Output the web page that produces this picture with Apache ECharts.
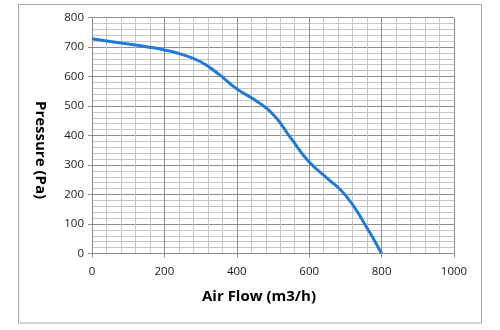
<!DOCTYPE html>
<html>
<head>
<meta charset="utf-8">
<script src="https://cdn.jsdelivr.net/npm/echarts@6/dist/echarts.min.js"></script>
<style>
  html, body { margin: 0; padding: 0; background: #ffffff; }
  #chart { width: 500px; height: 330px; }
</style>
</head>
<body>
<div id="chart"></div>
<script>
// Fan performance curve: static pressure vs. air flow
const flowValues     = [0, 50, 100, 150, 200, 250, 300, 350, 400, 450, 500, 550, 600, 650, 700, 750, 800];
const pressureValues = [728, 719, 710, 701, 690, 674, 650, 608, 558, 520, 472, 390, 310, 255, 198, 107, 0];

const xAxisTitle = 'Air Flow (m3/h)';
const yAxisTitle = 'Pressure (Pa)';

const curve = flowValues.map((f, i) => [f, pressureValues[i]]);

const labelFont = { color: '#1a1a1a', fontFamily: 'Open Sans', fontSize: 11.5 };
const majorLine = { show: true, lineStyle: { color: '#8e8e8e', width: 1 } };
const minorLine = { show: true, lineStyle: { color: '#c6c6c6', width: 1 } };

const chart = echarts.init(document.getElementById('chart'), null, { renderer: 'canvas' });
chart.setOption({
  animation: false,
  backgroundColor: '#ffffff',
  grid: { left: 92, right: 46, top: 17.5, bottom: 76.5, containLabel: false },
  xAxis: {
    type: 'value',
    min: 0, max: 1000, interval: 200,
    axisLine: { show: true, lineStyle: { color: '#8e8e8e' } },
    axisTick: { show: true, inside: false, length: 4, lineStyle: { color: '#8e8e8e' } },
    minorTick: { show: false, splitNumber: 5 },
    axisLabel: Object.assign({ margin: 12, formatter: v => String(v) }, labelFont),
    splitLine: majorLine,
    minorSplitLine: minorLine
  },
  yAxis: {
    type: 'value',
    min: 0, max: 800, interval: 100,
    axisLine: { show: true, lineStyle: { color: '#8e8e8e' } },
    axisTick: { show: true, inside: false, length: 4, lineStyle: { color: '#8e8e8e' } },
    minorTick: { show: false, splitNumber: 5 },
    axisLabel: Object.assign({ margin: 8, formatter: v => String(v) }, labelFont),
    splitLine: majorLine,
    minorSplitLine: minorLine
  },
  series: [{
    type: 'line',
    data: curve,
    smooth: 0.5,
    showSymbol: false,
    lineStyle: { color: '#1f7ad8', width: 3 },
    z: 5
  }],
  graphic: [
    {
      type: 'rect',
      shape: { x: 18.5, y: 4.5, width: 463, height: 318.5 },
      style: { fill: 'none', stroke: '#a6a6a6', lineWidth: 1 },
      silent: true
    },
    {
      type: 'text',
      x: 259, y: 297,
      style: {
        text: xAxisTitle, fill: '#000000',
        font: 'bold 15px "Open Sans"',
        align: 'center', verticalAlign: 'middle'
      }
    },
    {
      type: 'text',
      x: 40, y: 150,
      rotation: -Math.PI / 2,
      style: {
        text: yAxisTitle, fill: '#000000',
        font: 'bold 15px "Open Sans"',
        align: 'center', verticalAlign: 'middle'
      }
    }
  ]
});
</script>
</body>
</html>
